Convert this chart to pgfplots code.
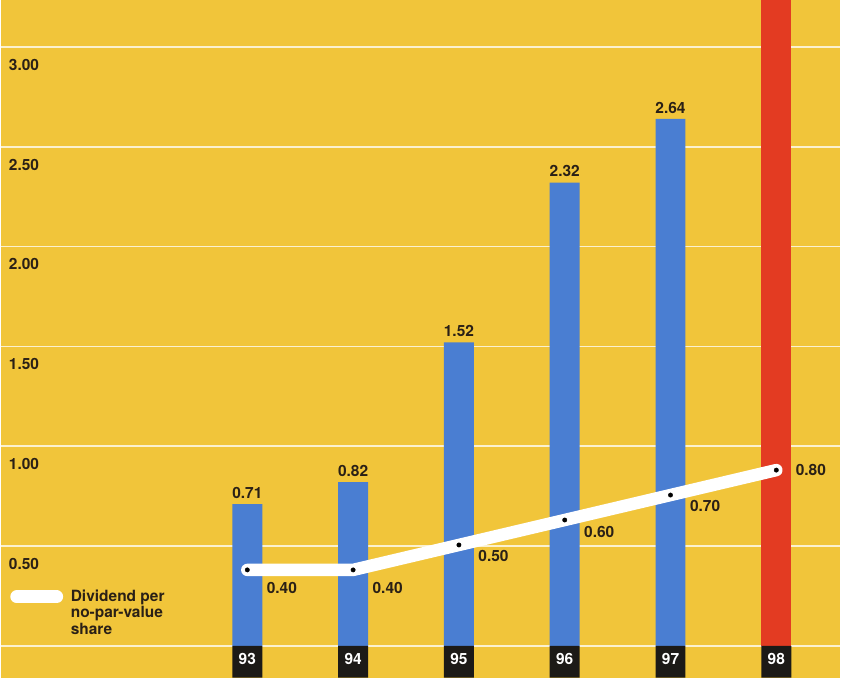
\documentclass[border=0pt]{standalone}
\usepackage{pgfplots}
\pgfplotsset{compat=1.18}
\usepackage{pgfplotstable}
\usepackage{fontspec}
\setmainfont{TeX Gyre Heros}
\pgfkeys{/pgf/number format/assume math mode=true}
\definecolor{bg}{HTML}{F1C53A}
\definecolor{barblue}{HTML}{4A7ED2}
\definecolor{barred}{HTML}{E33B22}
\definecolor{txt}{HTML}{2A2016}
\definecolor{boxblk}{HTML}{1C1A17}
\definecolor{gridc}{HTML}{FBF1CF}
\newcommand{\lblfont}{\bfseries\fontsize{15.5}{17}\selectfont}

\pgfplotstableread{
x div dy
0 0.40 -18
1 0.40 -18
2 0.50 -11
3 0.60 -12
4 0.70 -11
5 0.80 0
}\divtable

\begin{document}
\begin{tikzpicture}
\begin{axis}[
  name=main,
  width=841pt, height=679pt, scale only axis,
  xmin=-2.33, xmax=5.604, ymin=-0.16, ymax=3.235,
  axis background/.style={fill=bg},
  axis line style={draw=none},
  major tick length=0pt,
  xtick=\empty,
  ytick={0,0.5,1,1.5,2,2.5,3},
  yticklabels={,0.50,1.00,1.50,2.00,2.50,3.00},
  ymajorgrids,
  grid style={gridc, line width=1.6pt},
  yticklabel style={anchor=north west, inner sep=0pt, xshift=8pt, yshift=-12pt,
    font=\lblfont, text=txt},
  clip=true,
  ybar, bar width=0.283, bar shift=0pt,
]
\addplot[fill=barblue, draw=none,
  nodes near coords={\pgfmathprintnumber[fixed,fixed zerofill,precision=2,assume math mode=true]{\pgfplotspointmeta}},
  every node near coord/.style={anchor=south, yshift=2pt, text=txt, font=\lblfont}]
  coordinates {(0,0.71) (1,0.82) (2,1.52) (3,2.32) (4,2.64)};
\addplot[fill=barred, draw=none] coordinates {(5,3.6)};
\addplot[fill=boxblk, draw=none, point meta=explicit symbolic,
  nodes near coords,
  every node near coord/.style={anchor=center, yshift=19pt, text=white, font=\lblfont}]
  coordinates {(0,-0.16)[93] (1,-0.16)[94] (2,-0.16)[95] (3,-0.16)[96] (4,-0.16)[97] (5,-0.16)[98]};
% legend
\draw[white, line width=13pt, line cap=round] (axis cs:-2.179,0.245) -- (axis cs:-1.802,0.245);
\node[anchor=north west, inner sep=0pt, align=left, text=txt,
  font=\bfseries\fontsize{15.5}{16.5}\selectfont] at (axis cs:-1.67,0.282)
  {Dividend per\\no-par-value\\share};
\end{axis}
\begin{axis}[
  at={(main.south west)}, anchor=south west,
  width=841pt, height=679pt, scale only axis,
  xmin=-2.33, xmax=5.604, ymin=-0.032, ymax=2.684,
  hide axis, clip=false,
]
\addplot[white, line width=12.5pt, line cap=round, line join=round]
  table[x=x, y=div] {\divtable};
\addplot[only marks, mark=*, mark size=2.2pt, black,
  visualization depends on={\thisrow{dy} \as \dy},
  nodes near coords={\pgfmathprintnumber[fixed,fixed zerofill,precision=2,assume math mode=true]{\pgfplotspointmeta}},
  every node near coord/.style={anchor=west, xshift=16pt, yshift=\dy pt, text=txt, font=\lblfont}]
  table[x=x, y=div, meta=div] {\divtable};
\end{axis}
\end{tikzpicture}
\end{document}
